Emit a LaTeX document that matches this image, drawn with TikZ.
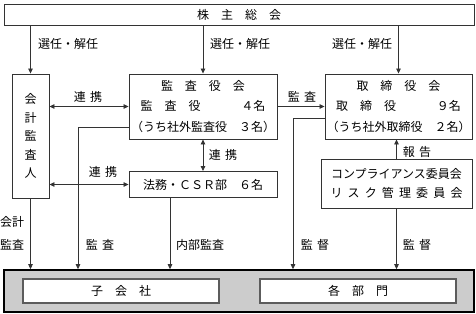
\documentclass[tikz,border=0pt]{standalone}
\usepackage{fontspec}
\setmainfont{Noto Sans CJK JP}
\usepackage{tikz}
\usetikzlibrary{arrows.meta,positioning,calc}
\definecolor{ink}{HTML}{333333}
\definecolor{panel}{HTML}{CCCCCC}

\begin{document}
\begin{tikzpicture}[x=1pt,y=-1pt,>={Triangle[length=5pt,width=4.5pt]},
  font=\fontsize{12}{14}\selectfont,
  box/.style={draw=ink,line width=0.9pt,fill=white,inner sep=0pt,align=center},
  link/.style={draw=ink,line width=0.8pt},
  lab/.style={inner sep=0pt}]
\useasboundingbox (0,0) rectangle (476,313);
% --- boxes ---
\node[box,minimum width=470,minimum height=21] (soukai) at (239,14.5) {株\quad 主\quad 総\quad 会};
\node[box,minimum width=37,minimum height=124,font=\fontsize{12}{18.5}\selectfont] (kaikei) at (30.5,136) {会\\計\\監\\査\\人};
\node[box,minimum width=148,minimum height=65,font=\fontsize{12}{20.5}\selectfont] (kansa) at (203,106.5)
  {監\quad 査\quad 役\quad 会\\監\quad 査\quad 役\hspace{3.4em}４名\\（うち社外監査役　３名）};
\node[box,minimum width=147,minimum height=65,font=\fontsize{12}{20.5}\selectfont] (torishimari) at (398.5,106.5)
  {取\quad 締\quad 役\quad 会\\取\quad 締\quad 役\hspace{3.4em}９名\\（うち社外取締役　２名）};
\node[box,minimum width=148,minimum height=26] (houmu) at (203,184.5) {法務・ＣＳＲ部\quad ６名};
\node[box,minimum width=151,minimum height=49,font=\fontsize{12}{19}\selectfont] (comp) at (396.5,183.5)
  {コンプライアンス委員会\\\makebox[11em][s]{リ\hfill ス\hfill ク\hfill 管\hfill 理\hfill 委\hfill 員\hfill 会}};
% --- bottom panel ---
\node[draw=black,line width=1.6pt,fill=panel,minimum width=470,minimum height=42,inner sep=0pt] (panel) at (239,291) {};
\node[box,draw=ink!80,line width=1.2pt,minimum width=196,minimum height=24] (kogaisha) at (121,291) {子\quad 会\quad 社};
\node[box,draw=ink!80,line width=1.2pt,minimum width=196,minimum height=24] (bumon) at (358,291) {各\quad 部\quad 門};
% --- connectors ---
\draw[link,->] (soukai.south -| kaikei) -- (kaikei.north);
\draw[link,->] (soukai.south -| kansa) -- (kansa.north);
\draw[link,->] (soukai.south -| torishimari) -- (torishimari.north);
\draw[link,<->] (kaikei.east |- kansa) -- (kansa.west);
\draw[link,->] (kansa.east) -- (torishimari.west);
\draw[link,<->] (kansa.south) -- (houmu.north);
\draw[link,<->] (kaikei.east |- houmu) -- (houmu.west);
\draw[link,->] (comp.north) -- (comp.north |- torishimari.south);
\coordinate (kansaline) at (78,0);
\coordinate (naibu) at (170,0);
\coordinate (kantoku) at (293,0);
\draw[link,->] (kaikei.south) -- (kaikei.south |- panel.north);
\draw[link,->] ([yshift=-20.5pt]kansa.west) -| (kansaline |- panel.north);
\draw[link,->] (houmu.south -| naibu) -- (naibu |- panel.north);
\draw[link,->] ([yshift=-11.5pt]torishimari.west) -| (kantoku |- panel.north);
\draw[link,->] (comp.south) -- (comp.south |- panel.north);
% --- labels ---
\foreach \x in {68,240,362} {\node[lab] at (\x,44) {選任・解任};}
\node[lab] at (88,97) {連\hspace{0.35em}携};
\node[lab] at (302,97) {監\hspace{0.35em}査};
\node[lab] at (223,155) {連\hspace{0.35em}携};
\node[lab] at (103,172) {連\hspace{0.35em}携};
\node[lab] at (417,152) {報\hspace{0.35em}告};
\node[lab,anchor=west] at (0,222) {会計};
\node[lab,anchor=west] at (0,245) {監査};
\node[lab] at (100,245) {監\hspace{0.35em}査};
\node[lab] at (200,245) {内部監査};
\node[lab] at (315,245) {監\hspace{0.35em}督};
\node[lab] at (417,245) {監\hspace{0.35em}督};
\end{tikzpicture}
\end{document}
